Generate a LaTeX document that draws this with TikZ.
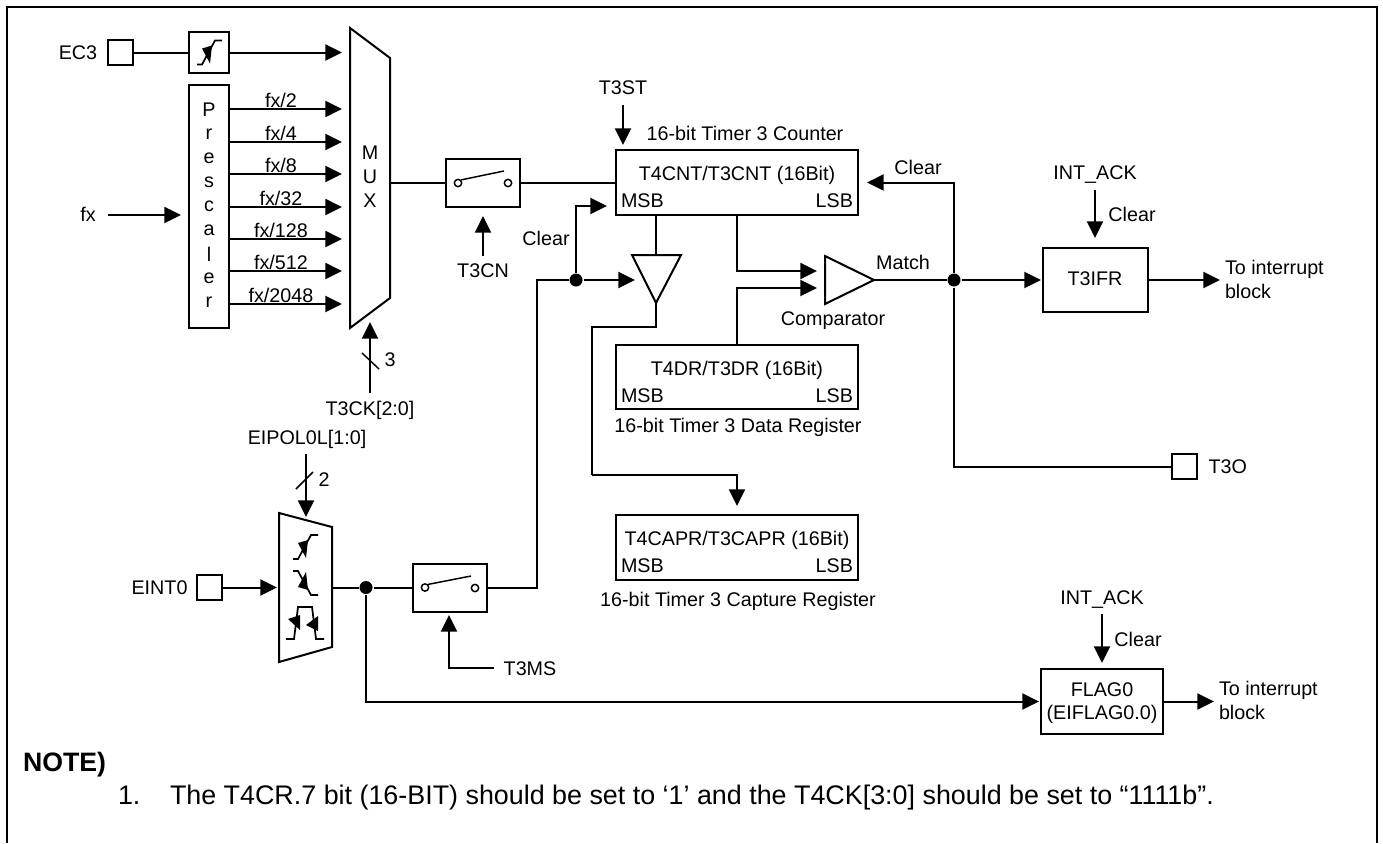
\documentclass[tikz,border=0pt]{standalone}
\usepackage{fontspec}
\setmainfont{Liberation Sans}
\usetikzlibrary{positioning, calc, arrows.meta}

\tikzset{
  schmittrise/.pic={
    \draw[line width=1.3pt] (-12,12) -- (-7,12) -- (6,-12) -- (13,-12);
    \fill (-7,-4) -- (3,-7) -- (1,11) -- cycle;
  },
}

\begin{document}
\begin{tikzpicture}[x=0.75pt, y=-0.75pt, font=\fontsize{14.8pt}{17pt}\selectfont,
  >={Triangle[length=12.5pt, width=12pt]}, line width=1.5pt,
  lbl/.style={inner sep=0pt, outer sep=0pt},
  wire/.style={line width=1.5pt},
  sig/.style={wire, ->},
  pinbox/.style={draw, minimum size=18.5pt, inner sep=0pt},
  swbox/.style={draw, minimum width=55pt, minimum height=36pt, inner sep=0pt},
  regbox/.style={draw, minimum width=181.5pt, minimum height=48.5pt, inner sep=0pt},
  dot/.style={circle, fill=black, minimum size=9.75pt, inner sep=0pt},
  contact/.style={circle, draw, fill=white, line width=1.1pt, minimum size=5.5pt, inner sep=0pt},
  notetext/.style={lbl, anchor=base west, font=\fontsize{20.15pt}{23pt}\selectfont},
]
\useasboundingbox (0,0) rectangle (1383,843);

%% ── outer frame (open at the bottom edge) ────────────────────────
\draw[line width=1.7pt] (7,843) -- (7,7) -- (1377,7) -- (1377,843);

%% ── clock inputs ─────────────────────────────────────────────────
\node[pinbox] (ec3) at (120.5,52.5) {};
\node[lbl, left=7.5pt of ec3] (ec3lbl) {EC3};
\node[draw, minimum size=30.5pt, inner sep=0pt] (schmitt) at (209,52.5) {};
\pic at (209,52.5) {schmittrise};
\node[draw, minimum width=30pt, minimum height=182pt, inner sep=0pt, align=center] (pre) at (209,206.5) {};
\foreach \ch [count=\i from 0] in {P,r,e,s,c,a,l,e,r}
  \node[lbl] (pre\i) at (209,110+24*\i) {\ch};
\node[lbl] (fxlbl) at (88,214) {fx};
\coordinate (fxin) at (108,215);
\coordinate (fxtip) at (181,215);
\draw[sig] (fxin) -- (fxtip);

%% ── clock mux ────────────────────────────────────────────────────
\draw (350,28) -- (390,58) -- (390,298) -- (350,328) -- cycle;
\coordinate (muxw) at (342,182.5);
\coordinate (muxe) at (390,182.5);
\coordinate (muxs) at (370,322);
\foreach \ch [count=\i from 0] in {M,U,X}
  \node[lbl] (mux\i) at (370,153+24*\i) {\ch};
\draw[wire] (ec3) -- (schmitt);
\draw[sig] (schmitt) -- (schmitt -| muxw);
\foreach \y/\lab in {109/{fx/2}, 142/{fx/4}, 174/{fx/8}, 207/{fx/32}, 239/{fx/128}, 271/{fx/512}, 304/{fx/2048}}{
  \coordinate (tap) at (0,\y);
  \draw[sig] (pre.east |- tap) -- (muxw |- tap);
  \node[lbl] (fx\y) at (281,\y-9) {\lab};
}
\node[lbl] (t3ck) at (370,410) {T3CK[2:0]};
\coordinate (t3ckup) at (370,393);
\draw[sig] (t3ckup) -- (muxs);
\draw[line width=1.1pt] (362,353) -- (379,369);
\node[lbl] (n3) at (390,360) {3};

%% ── run switch, counter ──────────────────────────────────────────
\node[swbox] (sw1) at (483,182.5) {};
\node[contact] (sw1a) at (458,183) {};
\node[contact] (sw1b) at (508,183) {};
\draw[line width=1.1pt] (sw1a.north east) -- (504,171);
\draw[wire] (muxe) -- (sw1);
\node[lbl] (t3cn) at (483,271) {T3CN};
\coordinate (t3cnup) at (483,256);
\coordinate (t3cntip) at (483,216);
\draw[sig] (t3cnup) -- (t3cntip);

\node[regbox] (cnt) at (737,182.5) {};
\node[lbl] (cnttxt) at (737,175) {T4CNT/T3CNT (16Bit)};
\node[lbl] (cntname) at (745,133) {16-bit Timer 3 Counter};
\draw[wire] (sw1) -- (cnt);
\node[lbl] (t3st) at (623,88) {T3ST};
\coordinate (t3stdn) at (623,105);
\coordinate (t3sttip) at (623,145);
\draw[sig] (t3stdn) -- (t3sttip);

%% ── data and capture registers ───────────────────────────────────
\node[regbox] (dr) at (737,377) {};
\node[lbl] (drtxt) at (737,370) {T4DR/T3DR (16Bit)};
\node[lbl] (drname) at (738,427) {16-bit Timer 3 Data Register};
\node[regbox] (cap) at (737,547.5) {};
\node[lbl] (captxt) at (737,540) {T4CAPR/T3CAPR (16Bit)};
\node[lbl] (capname) at (738,601) {16-bit Timer 3 Capture Register};
\foreach \reg in {cnt,dr,cap}{
  \node[lbl, anchor=south west, xshift=4.5pt, yshift=6pt] (\reg msb) at (\reg.south west) {MSB};
  \node[lbl, anchor=south east, xshift=-4.5pt, yshift=6pt] (\reg lsb) at (\reg.south east) {LSB};
}

%% ── capture buffer ───────────────────────────────────────────────
\coordinate (buftop) at (656,255);
\coordinate (bufbot) at (656,303);
\draw (632,255) -- (681,255) -- (bufbot) -- cycle;
\draw[wire] (cnt.south -| buftop) -- (buftop);
\coordinate (capbend) at (592,327);
\coordinate (capdn) at (592,475);
\coordinate (captip) at (737,506);
\draw[wire] (bufbot) |- (capbend) -- (capdn);
\draw[sig] (capdn) -| (captip);

%% ── comparator ───────────────────────────────────────────────────
\coordinate (cmpout) at (874,280);
\draw (825,256) -- (825,304) -- (cmpout) -- cycle;
\node[lbl] (cmplbl) at (833,321) {Comparator};
\node[lbl] (matchlbl) at (903,262) {Match};
\coordinate (cmpa) at (817,271);
\coordinate (cmpb) at (817,288);
\draw[sig] (cnt.south) |- (cmpa);
\draw[sig] (dr.north) |- (cmpb);

%% ── match output ─────────────────────────────────────────────────
\node[dot] (dmatch) at (954,280) {};
\draw[wire] (cmpout) -- (dmatch);
\coordinate (cnttip) at (867,182.5);
\draw[sig] (dmatch) |- (cnttip);
\node[lbl] (clr1) at (918,167) {Clear};
\node[pinbox] (t3o) at (1184.5,466.5) {};
\node[lbl, right=8pt of t3o] (t3olbl) {T3O};
\draw[wire] (dmatch) |- (t3o);

\node[draw, minimum width=78.75pt, minimum height=48.5pt, inner sep=0pt] (t3ifr) at (1095.5,280) {};
\node[lbl] (t3ifrtxt) at (1095,279) {T3IFR};
\coordinate (t3ifrtip) at (1041,280);
\draw[sig] (dmatch) -- (t3ifrtip);
\node[lbl] (ack1) at (1095,175) {INT\_ACK};
\coordinate (ack1dn) at (1095,190);
\coordinate (ack1tip) at (1095,238);
\draw[sig] (ack1dn) -- (ack1tip);
\node[lbl] (clr2) at (1132,214) {Clear};
\coordinate (int1tip) at (1220,280);
\draw[sig] (t3ifr) -- (int1tip);
\node[lbl, anchor=west, align=left] (int1) at (1225,279) {To interrupt\\[1pt]block};

%% ── external interrupt ───────────────────────────────────────────
\node[lbl] (eipol) at (307,439) {EIPOL0L[1:0]};
\coordinate (eipoldn) at (306,454);
\coordinate (eipoltip) at (306,517);
\draw[sig] (eipoldn) -- (eipoltip);
\draw[line width=1.1pt] (296,489) -- (313,472);
\node[lbl] (n2) at (324,480) {2};
\draw (279,513) -- (332,527) -- (332,647) -- (279,662) -- cycle;
\pic at (305,547) {schmittrise};
\pic[yscale=-1] at (305,583) {schmittrise};
\draw[line width=1.3pt] (286,639) -- (294,639) -- (298,607) -- (312,607) -- (316,639) -- (324,639);
\fill (288,619) -- (300,615) -- (300,630) -- cycle;
\fill (306,625) -- (318,616) -- (318,631) -- cycle;
\node[pinbox] (eint) at (209.5,587.5) {};
\node[lbl, left=6.5pt of eint] (eintlbl) {EINT0};
\coordinate (polw) at (277,587.5);
\coordinate (pole) at (332,587.5);
\draw[sig] (eint) -- (polw);

\node[dot] (dint) at (366,587.5) {};
\node[swbox] (sw2) at (450,587.5) {};
\node[contact] (sw2a) at (425,587.5) {};
\node[contact] (sw2b) at (475,588) {};
\draw[line width=1.1pt] (sw2a.north east) -- (471,576);
\draw[wire] (pole) -- (dint) -- (sw2);
\node[lbl] (t3ms) at (530,669) {T3MS};
\coordinate (t3msw) at (494,668);
\coordinate (t3mstip) at (449,615);
\draw[sig] (t3msw) -| (t3mstip);

%% ── capture trigger / clear ──────────────────────────────────────
\coordinate (trigup) at (537,280);
\node[dot] (dclr) at (576,280) {};
\coordinate (buftip) at (635,280);
\coordinate (clrtip) at (607,206);
\draw[wire] (sw2.east) -| (trigup) -- (dclr);
\draw[sig] (dclr) -- (buftip);
\draw[sig] (dclr) |- (clrtip);
\node[lbl] (clr3) at (546,238) {Clear};

%% ── flag ─────────────────────────────────────────────────────────
\node[draw, minimum width=91.5pt, minimum height=48.5pt, inner sep=0pt] (flag) at (1102,701.5) {};
\node[lbl, align=center] (flagtxt) at (1102,703) {FLAG0\\[0.5pt](EIFLAG0.0)};
\coordinate (flagtip) at (1039,701.5);
\draw[sig] (dint) |- (flagtip);
\node[lbl] (ack2) at (1102,600) {INT\_ACK};
\coordinate (ack2dn) at (1102,614);
\coordinate (ack2tip) at (1102,663);
\draw[sig] (ack2dn) -- (ack2tip);
\node[lbl] (clr4) at (1138,639) {Clear};
\coordinate (int2tip) at (1214,701.5);
\draw[sig] (flag) -- (int2tip);
\node[lbl, anchor=west, align=left] (int2) at (1219,700) {To interrupt\\[1pt]block};

%% ── note ─────────────────────────────────────────────────────────
\node[notetext, font=\fontsize{20pt}{23pt}\selectfont\bfseries] (note) at (23,771) {NOTE)};
\node[notetext] (num) at (118,804) {1.};
\node[notetext] (notetxt) at (170,804)
  {The T4CR.7 bit (16-BIT) should be set to ‘1’ and the T4CK[3:0] should be set to “1111b”.};

\end{tikzpicture}
\end{document}
